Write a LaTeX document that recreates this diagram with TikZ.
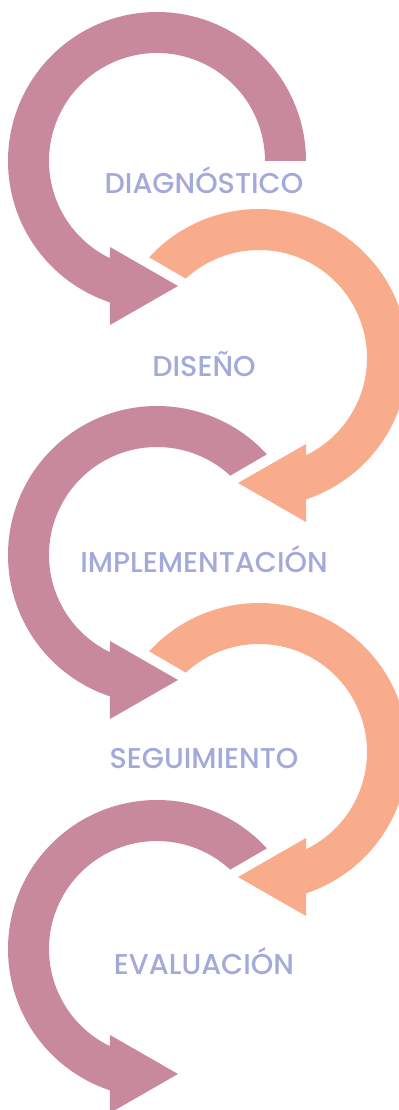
\documentclass[tikz,border=0pt]{standalone}
\usepackage{tikz}
\usepackage{fontspec}
\setmainfont{Poppins}[UprightFont=* Medium]
\usetikzlibrary{calc}
\usepackage{xcolor}
\definecolor{cycleMauve}{HTML}{C7899B}
\definecolor{cyclePeach}{HTML}{F8AC8C}
\definecolor{cycleLabel}{HTML}{A3A9D9}

% mauve loop: arrow head points right, #1 centre, #2 outer / #3 inner start angle
\newcommand{\mauveloop}[3]{%
\fill[cycleMauve,shift={#1}] (#2:149) arc[start angle=#2,end angle=251.6,radius=149]
  -- (-47,-164) -- (21,-125) -- (-47,-86) -- (244.2:108)
  arc[start angle=244.2,end angle=#3,radius=108] -- cycle;}
% peach loop: mirror image, arrow head points left
\newcommand{\peachloop}[1]{%
\fill[cyclePeach,shift={#1}] (137.5:149) arc[start angle=137.5,end angle=-71.6,radius=149]
  -- (47,-164) -- (-21,-125) -- (47,-86) -- (-64.2:108)
  arc[start angle=-64.2,end angle=132.7,radius=108] -- cycle;}

\begin{document}
\begin{tikzpicture}[x=0.02cm,y=0.02cm,
phase/.style={text=cycleLabel,anchor=base,inner sep=0pt,
  font=\fontsize{16.3}{18}\selectfont}]
\useasboundingbox (0,0) rectangle (399,1110);
\clip (0,0) rectangle (399,1110);

\mauveloop{(157,949)}{0}{0}
\peachloop{(259,752)}
\mauveloop{(157,555)}{42.5}{47.3}
\peachloop{(259,358)}
\mauveloop{(157,161)}{42.5}{47.3}

\node[phase] (diag) at (204,916) {DIAGNÓSTICO};
\node[phase] (dise) at (204,733) {DISEÑO};
\node[phase] (impl) at (204,537) {IMPLEMENTACIÓN};
\node[phase] (segu) at (204,341) {SEGUIMIENTO};
\node[phase] (eval) at (204,135) {EVALUACIÓN};
\end{tikzpicture}
\end{document}
